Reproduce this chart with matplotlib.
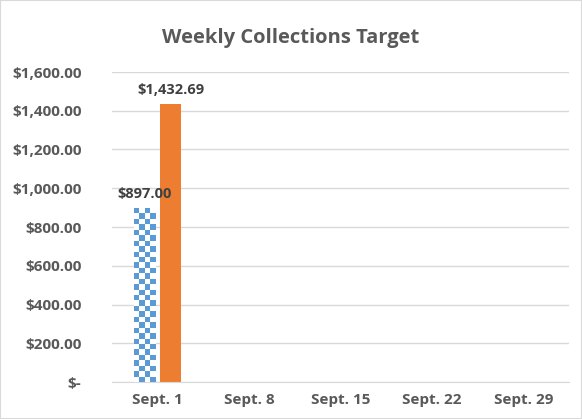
import matplotlib.pyplot as plt
import numpy as np
from matplotlib.patches import Rectangle

weeks = ["Sept. 1", "Sept. 8", "Sept. 15", "Sept. 22", "Sept. 29"]
collected = [897.00, 0, 0, 0, 0]
target = [1432.69, 0, 0, 0, 0]
yticks = [0, 200, 400, 600, 800, 1000, 1200, 1400, 1600]
ytick_labels = ["$-", "$200.00", "$400.00", "$600.00", "$800.00",
                "$1,000.00", "$1,200.00", "$1,400.00", "$1,600.00"]

plt.rcParams['font.family'] = ['Open Sans', 'DejaVu Sans']

fig = plt.figure(figsize=(5.82, 4.19), dpi=100)
ax = fig.add_axes([112 / 582, 1 - 382 / 419, 457 / 582, 310 / 419])

x = np.arange(len(weeks))
w = 0.23
blue = "#5B9BD5"
orange = "#ED7D31"

# checkered bars: white bar with a clipped checker image on top
for xi, v in zip(x, collected):
    if v <= 0:
        continue
    bar = ax.bar(xi - 0.14, v, w, color="white", zorder=2)[0]
    nx, ny = 4, int(v / 1600 * 310 / 5.3)
    cells = (np.add.outer(np.arange(ny), np.arange(nx)) % 2).astype(float)
    cmap = plt.matplotlib.colors.ListedColormap(["white", blue])
    im = ax.imshow(cells, cmap=cmap, extent=(xi - 0.14 - w / 2, xi - 0.14 + w / 2, 0, v),
                   aspect="auto", interpolation="nearest", origin="lower", zorder=3)
    im.set_clip_path(bar)
    ax.text(xi - 0.14, v + 35, f"${v:,.2f}", ha="center", va="bottom",
            fontsize=10.5, fontweight="bold", color="#404040", zorder=4)

for xi, v in zip(x, target):
    if v <= 0:
        continue
    ax.bar(xi + 0.14, v, w, color=orange, zorder=2)
    ax.text(xi + 0.14, v + 40, f"${v:,.2f}", ha="center", va="bottom",
            fontsize=10.5, fontweight="bold", color="#404040", zorder=4)

ax.set_xlim(-0.5, len(weeks) - 0.5)
ax.set_ylim(0, 1600)
ax.set_yticks(yticks)
ax.set_yticklabels(ytick_labels)
ax.set_xticks(x)
ax.set_xticklabels(weeks)
ax.grid(axis="y", color="#D9D9D9", linewidth=1, zorder=0)
ax.set_axisbelow(True)
for s in ["top", "right", "left"]:
    ax.spines[s].set_visible(False)
ax.spines["bottom"].set_color("#D9D9D9")
ax.tick_params(length=0, colors="#595959", labelsize=11, pad=8)
ax.tick_params(axis="y", pad=22)
for lab in ax.get_xticklabels() + ax.get_yticklabels():
    lab.set_fontweight("bold")

fig.text(0.5, 1 - 38 / 419, "Weekly Collections Target", ha="center", va="center",
         fontsize=14.5, fontweight="bold", color="#595959")
fig.patches.append(Rectangle((0, 0), 1, 1, transform=fig.transFigure, fill=False,
                             edgecolor="#D9D9D9", linewidth=1.5))

fig.savefig("out.png", dpi=100)
